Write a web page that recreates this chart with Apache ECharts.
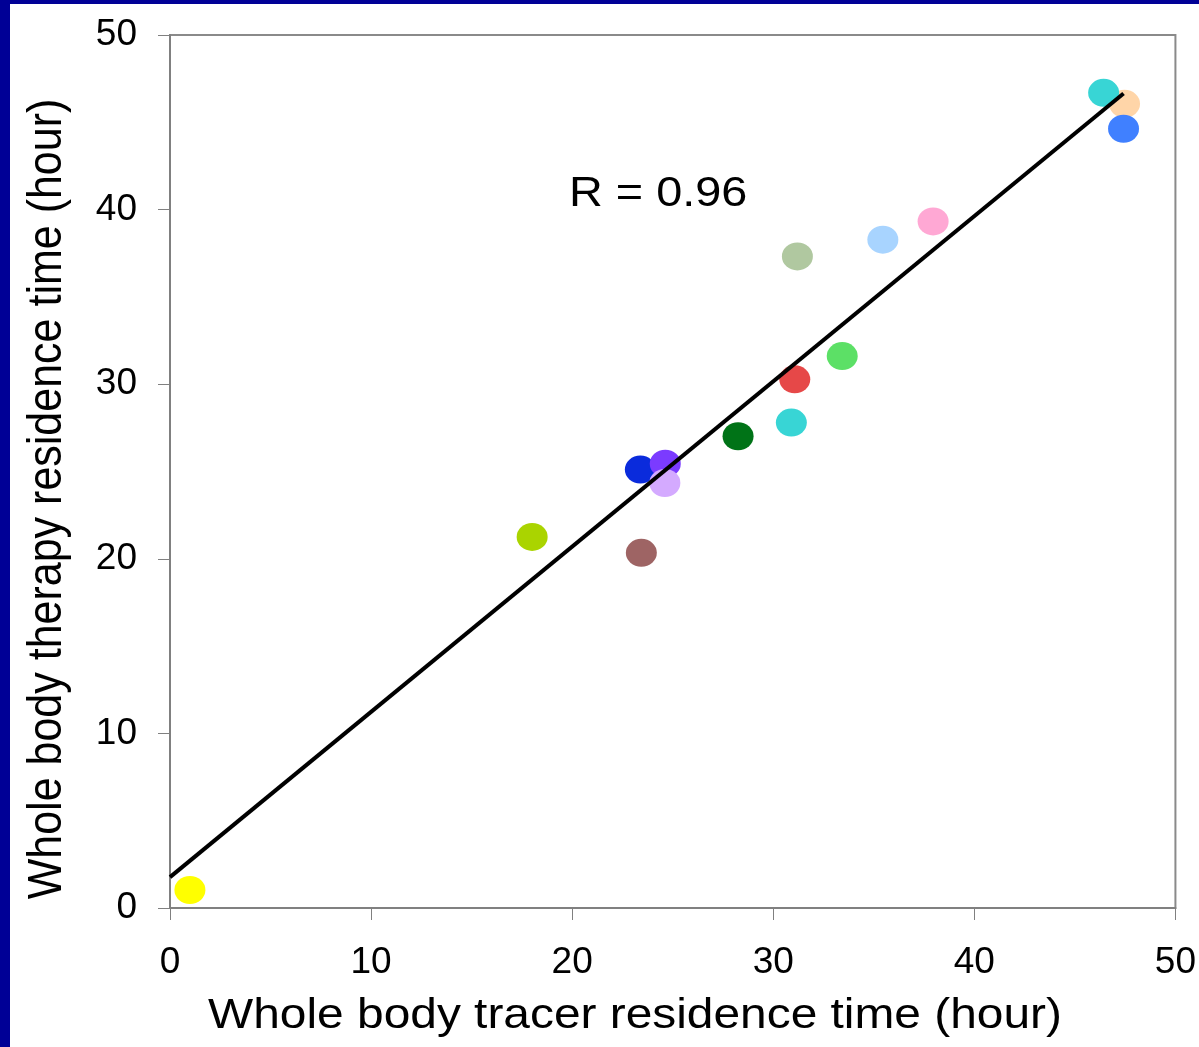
<!DOCTYPE html>
<html>
<head>
<meta charset="utf-8">
<script src="https://cdn.jsdelivr.net/npm/echarts@6/dist/echarts.min.js"></script>
<style>
  html, body { margin: 0; padding: 0; width: 1199px; height: 1047px; background: #000096; overflow: hidden; }
  #chart { position: absolute; left: 10px; top: 4px; width: 1189px; height: 1043px; background: #ffffff; }
</style>
</head>
<body>
<div id="chart"></div>
<script>
// Data
const tracerTime  = [0.99, 18.01, 23.44, 23.39, 24.63, 24.61, 28.25, 30.90, 31.07, 33.43, 31.20, 35.45, 37.95, 47.47, 46.43, 47.42];
const therapyTime = [1.03, 21.25, 20.34, 25.11, 25.45, 24.34, 27.02, 27.80, 30.28, 31.61, 37.32, 38.28, 39.32, 46.06, 46.69, 44.63];
const pointColors = ['#FFFF00', '#AAD400', '#9E6464', '#0A2BDC', '#7B3BFF', '#D4AAFF', '#007317', '#38D5D5',
                     '#E64848', '#5CE066', '#B0C8A0', '#A8D4FF', '#FFA8D4', '#FFD5A8', '#38D5D5', '#4080FF'];
const fitLineX = [0, 47.42];
const fitLineY = [1.77, 46.65];
const axisTicks = [0, 10, 20, 30, 40, 50];
const xTitle = 'Whole body tracer residence time (hour)';
const yTitle = 'Whole body therapy residence time (hour)';
const rLabel = 'R = 0.96';

const chart = echarts.init(document.getElementById('chart'), null, { renderer: 'canvas' });
const font = 'Arial, "Liberation Sans", sans-serif';

const scatterData = tracerTime.map((x, i) => ({
  value: [x, therapyTime[i]],
  itemStyle: { color: pointColors[i], opacity: 1 }
}));
const lineData = fitLineX.map((x, i) => [x, fitLineY[i]]);

const axisCommon = {
  type: 'value',
  min: axisTicks[0],
  max: axisTicks[axisTicks.length - 1],
  interval: axisTicks[1] - axisTicks[0],
  axisLine: { show: true, lineStyle: { color: '#808080', width: 2 } },
  axisTick: { show: true, inside: false, length: 12, lineStyle: { color: '#808080', width: 1 } },
  splitLine: { show: false },
  axisLabel: { color: '#000', fontSize: 37, fontFamily: font, margin: 33 }
};

chart.setOption({
  backgroundColor: '#ffffff',
  animation: false,
  grid: { left: 160, right: 22, top: 31, bottom: 139, show: true, borderColor: '#8a8a8a', borderWidth: 2, backgroundColor: 'transparent' },
  xAxis: Object.assign({}, axisCommon, { axisLabel: Object.assign({}, axisCommon.axisLabel, { margin: 36 }) }),
  yAxis: Object.assign({}, axisCommon),
  series: [
    {
      type: 'scatter',
      data: scatterData,
      symbol: 'circle',
      symbolSize: [31, 28],
      itemStyle: { opacity: 1 },
      z: 2
    },
    {
      type: 'line',
      data: lineData,
      symbol: 'none',
      lineStyle: { color: '#000', width: 4 },
      z: 3
    }
  ],
  graphic: [
    {
      type: 'text', x: 559, y: 190, z: 10,
      scaleX: 1.115,
      style: { text: rLabel, font: '42px ' + font, fill: '#000', align: 'left', verticalAlign: 'middle' }
    },
    {
      type: 'text', x: 625, y: 1012, z: 10,
      scaleX: 1.113,
      style: { text: xTitle, font: '43px ' + font, fill: '#000', align: 'center', verticalAlign: 'middle' }
    },
    {
      type: 'text', x: 38, y: 495, z: 10,
      rotation: Math.PI / 2,
      scaleY: 1.113,
      style: { text: yTitle, font: '43px ' + font, fill: '#000', align: 'center', verticalAlign: 'middle' }
    }
  ]
});
</script>
</body>
</html>
